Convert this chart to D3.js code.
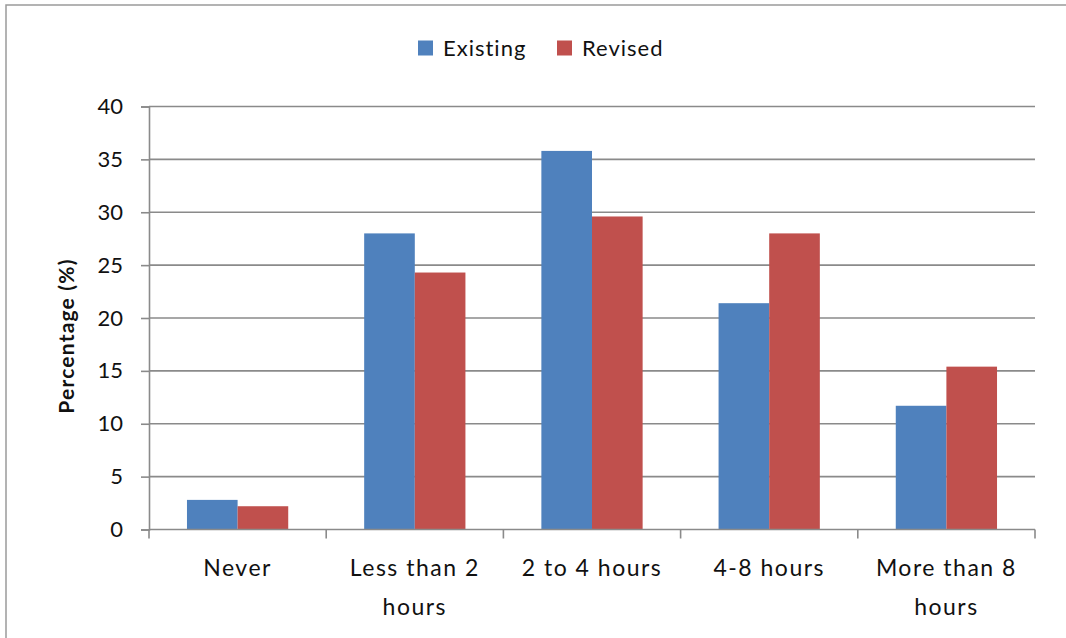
<!DOCTYPE html>
<html>
<head>
<meta charset="utf-8">
<script src="https://cdn.jsdelivr.net/npm/d3@7"></script>
<style>
  html, body { margin: 0; padding: 0; background: #fff; }
  svg { display: block; }
  text { font-family: Lato, "Noto Sans", sans-serif; fill: #111; }
</style>
</head>
<body>
<svg id="chart" width="1066" height="638"></svg>
<script>
// Chart data
const categories = ["Never", "Less than 2 hours", "2 to 4 hours", "4-8 hours", "More than 8 hours"];
const categoryLines = [["Never"], ["Less than 2", "hours"], ["2 to 4 hours"], ["4-8 hours"], ["More than 8", "hours"]];
const seriesNames = ["Existing", "Revised"];
const existing = [2.8, 28.0, 35.8, 21.4, 11.7];
const revised = [2.2, 24.3, 29.6, 28.0, 15.4];
const yTicks = [0, 5, 10, 15, 20, 25, 30, 35, 40];
const colors = ["#4F81BD", "#C0504D"];

const svg = d3.select("#chart");
const W = 1066, H = 638;
const plot = { left: 149, right: 1035, top: 106.5, bottom: 529.5 };

// chart area border
svg.append("rect")
  .attr("x", 6).attr("y", 5)
  .attr("width", W + 20).attr("height", H + 20)
  .attr("fill", "none").attr("stroke", "#9a9a9a").attr("stroke-width", 1.5);

const x0 = d3.scaleBand().domain(categories).range([plot.left, plot.right]).paddingInner(0).paddingOuter(0);
const x1 = d3.scaleBand().domain(seriesNames).range([0, x0.bandwidth()]).paddingInner(0).paddingOuter(0.75);
const y = d3.scaleLinear().domain([0, 40]).range([plot.bottom, plot.top]);

// horizontal gridlines
svg.append("g")
  .selectAll("line").data(yTicks.filter(d => d > 0)).join("line")
  .attr("x1", plot.left).attr("x2", plot.right)
  .attr("y1", d => y(d)).attr("y2", d => y(d))
  .attr("stroke", "#8a8a8a").attr("stroke-width", 1.6);

// y axis
const yAxis = svg.append("g").attr("transform", `translate(${plot.left},0)`)
  .call(d3.axisLeft(y).tickValues(yTicks).tickSize(8).tickPadding(18).tickFormat(d3.format("d")));
yAxis.select(".domain").attr("stroke", "#8a8a8a").attr("stroke-width", 1.6);
yAxis.selectAll(".tick line").attr("stroke", "#8a8a8a").attr("stroke-width", 1.6);
yAxis.selectAll(".tick text").attr("font-size", 22).attr("fill", "#111")
  .style("font-family", "Lato, 'Noto Sans', sans-serif");

// bars
const rows = categories.map((c, i) => ({ cat: c, vals: [existing[i], revised[i]] }));
const groups = svg.append("g").selectAll("g").data(rows).join("g")
  .attr("transform", d => `translate(${x0(d.cat)},0)`);
groups.selectAll("rect")
  .data(d => d.vals.map((v, k) => ({ name: seriesNames[k], v, k })))
  .join("rect")
  .attr("x", d => x1(d.name))
  .attr("width", x1.bandwidth())
  .attr("y", d => y(d.v))
  .attr("height", d => y(0) - y(d.v))
  .attr("fill", d => colors[d.k]);

// x axis baseline and category boundary ticks
svg.append("line")
  .attr("x1", plot.left).attr("x2", plot.right)
  .attr("y1", y(0)).attr("y2", y(0))
  .attr("stroke", "#8a8a8a").attr("stroke-width", 1.6);
const boundaries = categories.map(c => x0(c)).concat([plot.right]);
svg.append("g").selectAll("line").data(boundaries).join("line")
  .attr("x1", d => d).attr("x2", d => d)
  .attr("y1", y(0)).attr("y2", y(0) + 9)
  .attr("stroke", "#8a8a8a").attr("stroke-width", 1.6);

// category labels
const labels = svg.append("g").selectAll("text").data(categories).join("text")
  .attr("text-anchor", "middle")
  .attr("font-size", 23)
  .attr("letter-spacing", 1.5)
  .attr("x", d => x0(d) + x0.bandwidth() / 2)
  .attr("y", 576);
labels.each(function (d, i) {
  const t = d3.select(this);
  categoryLines[i].forEach((line, j) => {
    t.append("tspan")
      .attr("x", x0(d) + x0.bandwidth() / 2)
      .attr("dy", j === 0 ? 0 : 39)
      .text(line);
  });
});

// y axis title
svg.append("text")
  .attr("transform", `translate(74,336) rotate(-90)`)
  .attr("text-anchor", "middle")
  .attr("font-size", 21)
  .attr("letter-spacing", 1.2)
  .attr("font-weight", "bold")
  .text("Percentage (%)");

// legend
const legend = svg.append("g");
const legendItems = [{ name: seriesNames[0], x: 418 }, { name: seriesNames[1], x: 557 }];
legendItems.forEach((it, k) => {
  legend.append("rect")
    .attr("x", it.x).attr("y", 40.5)
    .attr("width", 15).attr("height", 15)
    .attr("fill", colors[k]);
  legend.append("text")
    .attr("x", it.x + 25).attr("y", 56)
    .attr("font-size", 22)
    .attr("letter-spacing", 1)
    .text(it.name);
});
</script>
</body>
</html>
